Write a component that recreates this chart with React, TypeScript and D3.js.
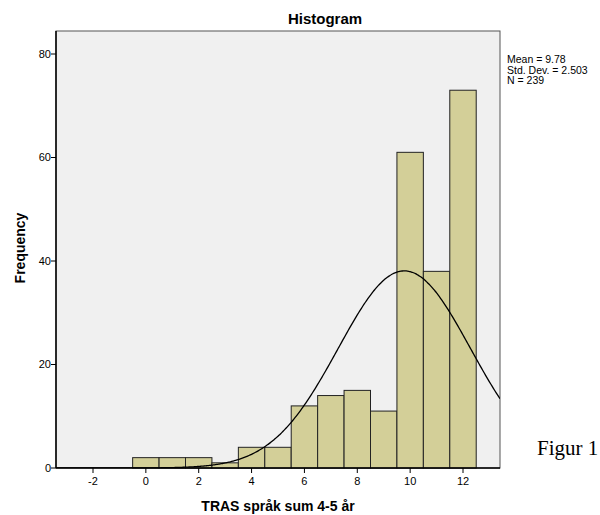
import React from 'react';
import * as d3 from 'd3';

// bin centres and counts
const binCenters = [0, 1, 2, 3, 4, 5, 6, 7, 8, 9, 10, 11, 12];
const counts = [2, 2, 2, 1, 4, 4, 12, 14, 15, 11, 61, 38, 73];
const xTicks = [-2, 0, 2, 4, 6, 8, 10, 12];
const yTicks = [0, 20, 40, 60, 80];
const statLines = ['Mean = 9.78', 'Std. Dev. = 2.503', 'N = 239'];

const mean = 9.78;
const sd = 2.503;
const n = 239;

export default function App() {
  const width = 600;
  const height = 515;
  const margin = { left: 56, right: 100, top: 31, bottom: 47 };

  const x = d3.scaleLinear().domain([-3.4, 13.4]).range([margin.left, width - margin.right]);
  const y = d3.scaleLinear().domain([0, 80]).range([height - margin.bottom, 54]);
  const yTop = 31;

  // normal curve scaled to counts (bin width = 1)
  const curvePts = d3.range(-3.4, 13.41, 0.05).map(v => {
    const z = (v - mean) / sd;
    return [v, (n / (sd * Math.sqrt(2 * Math.PI))) * Math.exp(-0.5 * z * z)] as [number, number];
  });
  const line = d3.line<[number, number]>()
    .x(d => x(d[0]))
    .y(d => y(d[1]))
    .curve(d3.curveBasis);

  const x0 = x.range()[0];
  const x1 = x.range()[1];
  const y0 = y(0);

  return (
    <svg width={width} height={height} style={{ position: 'absolute', left: 0, top: 0, background: '#fff' }}
      fontFamily="Arial, 'Liberation Sans', sans-serif">
      <defs>
        <clipPath id="plotClip">
          <rect x={x0} y={yTop} width={x1 - x0} height={y0 - yTop} />
        </clipPath>
      </defs>

      <rect x={x0} y={yTop} width={x1 - x0} height={y0 - yTop} fill="#f0f0f0" stroke="#555" strokeWidth={1} />

      {binCenters.map((c, i) => (
        <rect key={c}
          x={x(c - 0.5)} y={y(counts[i])}
          width={x(c + 0.5) - x(c - 0.5)} height={y0 - y(counts[i])}
          fill="#d3cf98" stroke="#222" strokeWidth={1} />
      ))}

      <path d={line(curvePts) || ''} fill="none" stroke="#000" strokeWidth={1.3} clipPath="url(#plotClip)" />

      {/* axes */}
      <line x1={x0} x2={x0} y1={yTop} y2={y0} stroke="#000" strokeWidth={1.5} />
      <line x1={x0} x2={x1} y1={y0} y2={y0} stroke="#000" strokeWidth={1.5} />

      {yTicks.map(t => (
        <g key={t}>
          <line x1={x0 - 5} x2={x0} y1={y(t)} y2={y(t)} stroke="#000" />
          <text x={x0 - 5} y={y(t)} dy="0.35em" textAnchor="end" fontSize={11}>{t}</text>
        </g>
      ))}
      {xTicks.map(t => (
        <g key={t}>
          <line x1={x(t)} x2={x(t)} y1={y0} y2={y0 + 5} stroke="#000" />
          <text x={x(t)} y={y0 + 17} textAnchor="middle" fontSize={11}>{t}</text>
        </g>
      ))}

      <text x={325} y={24} textAnchor="middle" fontSize={15} fontWeight="bold">Histogram</text>
      <text x={278} y={511} textAnchor="middle" fontSize={14} fontWeight="bold">TRAS språk sum 4-5 år</text>
      <text transform={`translate(25,${248}) rotate(-90)`} textAnchor="middle" fontSize={14} fontWeight="bold">Frequency</text>

      {statLines.map((s, i) => (
        <text key={s} x={507} y={63 + i * 10.5} fontSize={10.5}>{s}</text>
      ))}

      <text x={537} y={455} fontSize={21} fontFamily="'Liberation Serif', 'Times New Roman', serif">Figur 1</text>
    </svg>
  );
}
